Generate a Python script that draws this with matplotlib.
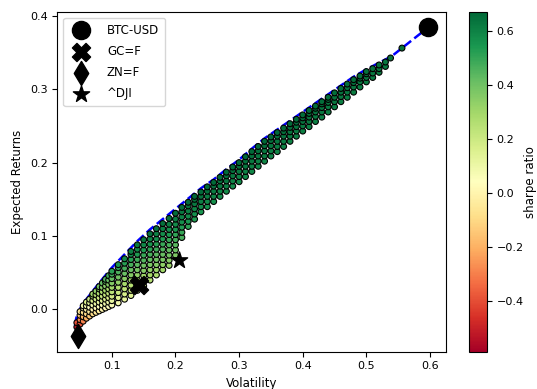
# -*- coding: utf-8 -*-
import numpy as np
import matplotlib
matplotlib.use('Agg')
import matplotlib.pyplot as plt

# %% Datos

# nube de portafolios: una columna por volatilidad, con sus retornos
port_vols = [0.045, 0.050, 0.055, 0.060, 0.065, 0.070, 0.075, 0.080, 0.085, 0.090, 0.095,
             0.10, 0.11, 0.12, 0.13, 0.14, 0.15, 0.16, 0.17, 0.18, 0.19, 0.20, 0.21,
             0.22, 0.23, 0.24, 0.25, 0.26, 0.27, 0.28, 0.29, 0.30, 0.31, 0.32, 0.33,
             0.34, 0.35, 0.36, 0.37, 0.38, 0.39, 0.40, 0.41, 0.42, 0.43, 0.44, 0.45,
             0.46, 0.47, 0.48, 0.49, 0.50, 0.51, 0.52, 0.53, 0.538, 0.556]
port_rets = [
    [-0.024, -0.018],
    [-0.020, -0.014, -0.008, -0.003],
    [-0.016, -0.010, -0.004, 0.002, 0.005],
    [-0.012, -0.006, 0.000, 0.005, 0.010],
    [-0.009, -0.003, 0.003, 0.009, 0.014],
    [-0.006, 0.000, 0.006, 0.012, 0.018, 0.021],
    [-0.004, 0.002, 0.008, 0.014, 0.020, 0.025],
    [-0.002, 0.004, 0.010, 0.016, 0.022, 0.028, 0.031],
    [0.000, 0.006, 0.012, 0.018, 0.024, 0.030, 0.036],
    [0.002, 0.008, 0.014, 0.020, 0.026, 0.032, 0.038, 0.041],
    [0.004, 0.010, 0.016, 0.022, 0.028, 0.034, 0.040, 0.046],
    [0.006, 0.012, 0.018, 0.024, 0.030, 0.036, 0.042, 0.048, 0.052],
    [0.009, 0.016, 0.023, 0.030, 0.037, 0.044, 0.051, 0.057, 0.061],
    [0.014, 0.021, 0.028, 0.035, 0.042, 0.049, 0.056, 0.063, 0.069],
    [0.019, 0.026, 0.033, 0.040, 0.047, 0.054, 0.061, 0.068, 0.075, 0.079],
    [0.026, 0.033, 0.040, 0.047, 0.054, 0.061, 0.068, 0.075, 0.082, 0.088],
    [0.032, 0.039, 0.046, 0.053, 0.060, 0.067, 0.074, 0.081, 0.088, 0.095],
    [0.040, 0.047, 0.054, 0.061, 0.068, 0.075, 0.082, 0.089, 0.096, 0.103],
    [0.047, 0.054, 0.061, 0.068, 0.075, 0.082, 0.089, 0.096, 0.103, 0.110],
    [0.054, 0.061, 0.068, 0.075, 0.082, 0.089, 0.096, 0.103, 0.110, 0.117],
    [0.060, 0.067, 0.074, 0.081, 0.088, 0.095, 0.102, 0.109, 0.116, 0.124],
    [0.074, 0.081, 0.088, 0.095, 0.102, 0.109, 0.116, 0.123, 0.131],
    [0.098, 0.105, 0.112, 0.119, 0.126, 0.133, 0.139],
    [0.113, 0.120, 0.127, 0.134, 0.141, 0.146],
    [0.123, 0.130, 0.137, 0.144, 0.150, 0.154],
    [0.133, 0.140, 0.147, 0.154, 0.160],
    [0.140, 0.147, 0.154, 0.161, 0.167],
    [0.147, 0.154, 0.161, 0.168, 0.173],
    [0.154, 0.161, 0.168, 0.175, 0.180],
    [0.161, 0.168, 0.175, 0.182, 0.187],
    [0.168, 0.175, 0.182, 0.189, 0.194],
    [0.174, 0.181, 0.188, 0.195, 0.200],
    [0.181, 0.188, 0.195, 0.202, 0.208],
    [0.188, 0.195, 0.202, 0.209, 0.215],
    [0.195, 0.202, 0.209, 0.216, 0.222],
    [0.202, 0.209, 0.216, 0.223, 0.229],
    [0.209, 0.216, 0.223, 0.230, 0.235],
    [0.215, 0.222, 0.229, 0.236, 0.241],
    [0.222, 0.229, 0.236, 0.242, 0.247],
    [0.229, 0.236, 0.242, 0.248, 0.253],
    [0.236, 0.243, 0.249, 0.255, 0.259],
    [0.243, 0.250, 0.256, 0.261, 0.265],
    [0.249, 0.256, 0.262, 0.267, 0.271],
    [0.256, 0.263, 0.269, 0.274, 0.277],
    [0.262, 0.269, 0.275, 0.280, 0.283],
    [0.269, 0.276, 0.282, 0.286, 0.289],
    [0.276, 0.283, 0.289, 0.295],
    [0.283, 0.290, 0.296, 0.301],
    [0.289, 0.296, 0.302, 0.307],
    [0.296, 0.303, 0.309, 0.313],
    [0.303, 0.310, 0.315, 0.318],
    [0.310, 0.316, 0.321, 0.324],
    [0.316, 0.322, 0.328],
    [0.323, 0.328, 0.333],
    [0.331, 0.337],
    [0.3425],
    [0.356],
]

# frontera eficiente
front_vol = [0.042, 0.044, 0.048, 0.055, 0.060, 0.070, 0.080, 0.100, 0.120, 0.140,
             0.160, 0.180, 0.200, 0.220, 0.240, 0.260, 0.280, 0.300, 0.320, 0.340,
             0.360, 0.380, 0.400, 0.420, 0.440, 0.460, 0.480, 0.500, 0.520, 0.540,
             0.556, 0.597]
front_ret = [-0.022, -0.012, -0.002, 0.008, 0.014, 0.025, 0.036, 0.057, 0.075, 0.093,
             0.109, 0.123, 0.137, 0.151, 0.165, 0.177, 0.191, 0.204, 0.219, 0.233,
             0.245, 0.257, 0.269, 0.281, 0.293, 0.305, 0.317, 0.327, 0.336, 0.345,
             0.356, 0.384]

# activos individuales
activos = ['BTC-USD', 'GC=F', 'ZN=F', '^DJI']
activos_vol = [0.597, 0.142, 0.047, 0.205]
activos_ret = [0.3845, 0.0335, -0.0365, 0.068]
marcadores = ['o', 'X', 'd', '*']
tamanios = [170, 170, 150, 150]

# %% Calculos

xs = [v for v, col in zip(port_vols, port_rets) for r in col]
ys = [r for v, col in zip(port_vols, port_rets) for r in col]
sharpe = np.array(ys) / np.array(xs)

# %% Grafico

plt.rcParams['font.size'] = 8.5
plt.rcParams['xtick.labelsize'] = 8
plt.rcParams['ytick.labelsize'] = 8
fig = plt.figure(figsize=(5.37, 3.89), dpi=100)
ax = fig.add_axes([0.1067, 0.0959, 0.7233, 0.874])
cax = fig.add_axes([0.8734, 0.0959, 0.0335, 0.874])

ax.plot(front_vol, front_ret, '--', color='blue', lw=1.8, zorder=1)
sc = ax.scatter(xs, ys, c=sharpe, cmap='RdYlGn', vmin=-0.588, vmax=0.673,
                s=18, edgecolors='black', linewidths=0.8, zorder=2)

for nombre, v, r, m, t in zip(activos, activos_vol, activos_ret, marcadores, tamanios):
    ax.scatter(v, r, marker=m, s=t, color='black', label=nombre, zorder=4)

ax.set_xlabel('Volatility')
ax.set_ylabel('Expected Returns')
ax.legend(loc='upper left', labelspacing=0.7, borderpad=0.5, handletextpad=1.2)

cb = fig.colorbar(sc, cax=cax)
cb.set_label('sharpe ratio', labelpad=0)

fig.savefig('out.png', dpi=100)
